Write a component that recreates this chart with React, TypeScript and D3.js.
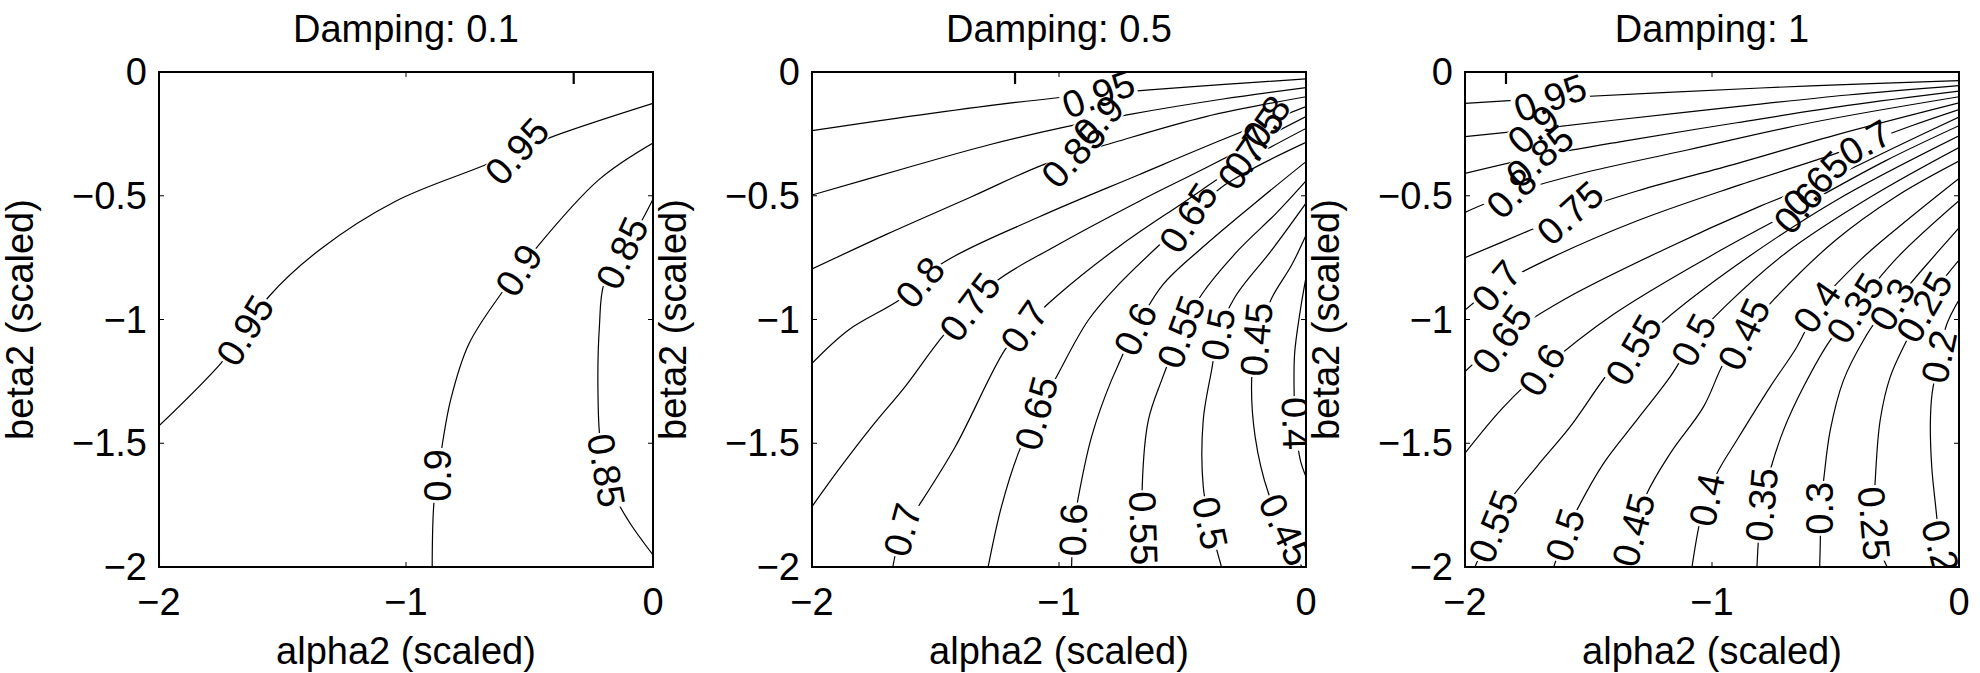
import React from 'react';
import * as d3 from 'd3';

type Pt = [number, number];
type Lab = [number, number, number]; // x, y, rotation (deg)

// ---------- axes / text ----------
const titles = ['Damping: 0.1', 'Damping: 0.5', 'Damping: 1'];
const xTicks = [-2, -1, 0];
const yTicks = [0, -0.5, -1, -1.5, -2];
const xLabel = 'alpha2 (scaled)';
const yLabel = 'beta2 (scaled)';
const stubX = [-0.321, -1.178, -1.834];

// ---------- Panel 1 : Damping 0.1 ----------
const p1_095: Pt[] = [[-2, -1.43], [-1.748, -1.175], [-1.651, -1.045], [-1.554, -0.906], [-1.344, -0.714], [-1.044, -0.523], [-0.677, -0.375], [-0.43, -0.27], [0, -0.127]];
const p1_095_lab: Lab[] = [[-1.651, -1.045, -58], [-0.55, -0.321, -48]];
const p1_090: Pt[] = [[0, -0.287], [-0.22, -0.436], [-0.49, -0.732], [-0.61, -0.889], [-0.745, -1.098], [-0.819, -1.324], [-0.864, -1.577], [-0.887, -1.742], [-0.894, -2]];
const p1_090_lab: Lab[] = [[-0.543, -0.801, -57], [-0.872, -1.63, -90]];
const p1_085: Pt[] = [[0, -0.514], [-0.055, -0.618], [-0.124, -0.732], [-0.198, -0.854], [-0.217, -1.028], [-0.223, -1.272], [-0.213, -1.498], [-0.175, -1.672], [-0.1, -1.812], [0, -1.951]];
const p1_085_lab: Lab[] = [[-0.124, -0.732, -65], [-0.19, -1.61, 80]];

// ---------- Panel 2 : Damping 0.5 ----------
const p2_095: Pt[] = [[-2, -0.237], [-1.516, -0.167], [-1.024, -0.106], [-0.84, -0.09], [-0.647, -0.073], [-0.33, -0.05], [0, -0.028]];
const p2_095_lab: Lab[] = [[-0.84, -0.09, -20]];
const p2_090: Pt[] = [[-2, -0.497], [-1.623, -0.389], [-1.286, -0.295], [-0.969, -0.221], [-0.713, -0.171], [-0.342, -0.11], [0, -0.063]];
const p2_090_lab: Lab[] = [[-0.84, -0.195, -45]];
const p2_085: Pt[] = [[-2, -0.796], [-1.69, -0.652], [-1.354, -0.504], [-1.057, -0.372], [-0.768, -0.282], [-0.409, -0.181], [0, -0.1]];
const p2_085_lab: Lab[] = [[-0.94, -0.335, -47]];
const p2_080: Pt[] = [[-2, -1.177], [-1.852, -1.042], [-1.636, -0.914], [-1.474, -0.774], [-1.084, -0.587], [-0.679, -0.416], [-0.342, -0.275], [0, -0.14]];
const p2_080_lab: Lab[] = [[-1.562, -0.85, -50], [-0.16, -0.2, -55]];
const p2_075: Pt[] = [[-2, -1.756], [-1.893, -1.608], [-1.758, -1.433], [-1.623, -1.271], [-1.461, -1.056], [-1.26, -0.85], [-1.017, -0.705], [-0.679, -0.524], [-0.409, -0.389], [0, -0.18]];
const p2_075_lab: Lab[] = [[-1.36, -0.95, -53], [-0.21, -0.287, -55]];
const p2_070: Pt[] = [[-1.673, -2], [-1.633, -1.85], [-1.57, -1.756], [-1.42, -1.514], [-1.219, -1.123], [-1.14, -1.03], [-1.003, -0.9], [-0.75, -0.7], [-0.5, -0.53], [-0.26, -0.37], [0, -0.228]];
const p2_070_lab: Lab[] = [[-1.633, -1.85, -75], [-1.14, -1.03, -55], [-0.26, -0.37, -55]];
const p2_065: Pt[] = [[-1.287, -2], [-1.233, -1.756], [-1.165, -1.541], [-1.091, -1.379], [-1.017, -1.244], [-0.881, -1.002], [-0.76, -0.86], [-0.476, -0.59], [-0.328, -0.456], [0, -0.284]];
const p2_065_lab: Lab[] = [[-1.091, -1.379, -75], [-0.476, -0.59, -57]];
const p2_060: Pt[] = [[-0.949, -2], [-0.942, -1.85], [-0.922, -1.72], [-0.868, -1.473], [-0.787, -1.244], [-0.69, -1.04], [-0.58, -0.86], [-0.409, -0.7], [-0.207, -0.53], [0, -0.362]];
const p2_060_lab: Lab[] = [[-0.942, -1.85, -88], [-0.69, -1.04, -65]];
const p2_055: Pt[] = [[-0.652, -2], [-0.659, -1.843], [-0.663, -1.675], [-0.638, -1.406], [-0.584, -1.244], [-0.505, -1.05], [-0.423, -0.9], [-0.274, -0.72], [-0.12, -0.57], [0, -0.44]];
const p2_055_lab: Lab[] = [[-0.659, -1.843, 88], [-0.505, -1.05, -70]];
const p2_050: Pt[] = [[-0.342, -2], [-0.389, -1.823], [-0.416, -1.675], [-0.416, -1.406], [-0.382, -1.204], [-0.355, -1.06], [-0.288, -0.91], [-0.139, -0.72], [0, -0.53]];
const p2_050_lab: Lab[] = [[-0.389, -1.823, 78], [-0.355, -1.06, -80]];
const p2_045: Pt[] = [[-0.017, -2], [-0.085, -1.85], [-0.152, -1.702], [-0.206, -1.473], [-0.22, -1.244], [-0.2, -1.08], [-0.139, -0.914], [-0.058, -0.78], [0, -0.66]];
const p2_045_lab: Lab[] = [[-0.085, -1.85, 65], [-0.2, -1.08, -85]];
const p2_040: Pt[] = [[0, -0.83], [-0.024, -0.969], [-0.046, -1.137], [-0.048, -1.3], [-0.043, -1.42], [-0.023, -1.568], [0, -1.635]];
const p2_040_lab: Lab[] = [[-0.043, -1.42, 88]];

// ---------- Panel 3 : Damping 1 ----------
const p3_095: Pt[] = [[-2, -0.127], [-1.655, -0.106], [-1.2, -0.083], [-0.6, -0.056], [0, -0.035]];
const p3_095_lab: Lab[] = [[-1.655, -0.106, -20]];
const p3_090: Pt[] = [[-2, -0.261], [-1.723, -0.232], [-1.4, -0.195], [-0.9, -0.14], [-0.45, -0.093], [0, -0.055]];
const p3_090_lab: Lab[] = [[-1.723, -0.232, -40]];
const p3_085: Pt[] = [[-2, -0.41], [-1.696, -0.34], [-1.35, -0.278], [-0.9, -0.205], [-0.45, -0.135], [0, -0.077]];
const p3_085_lab: Lab[] = [[-1.696, -0.34, -40]];
const p3_080: Pt[] = [[-2, -0.567], [-1.811, -0.49], [-1.55, -0.415], [-1.1, -0.315], [-0.6, -0.205], [0, -0.1]];
const p3_080_lab: Lab[] = [[-1.811, -0.49, -45]];
const p3_075: Pt[] = [[-2, -0.75], [-1.75, -0.645], [-1.574, -0.57], [-1.3, -0.48], [-0.9, -0.37], [-0.5, -0.255], [0, -0.125]];
const p3_075_lab: Lab[] = [[-1.574, -0.57, -42]];
const p3_070: Pt[] = [[-2, -0.962], [-1.872, -0.865], [-1.65, -0.75], [-1.3, -0.6], [-0.9, -0.46], [-0.5, -0.33], [-0.2, -0.22], [0, -0.152]];
const p3_070_lab: Lab[] = [[-1.872, -0.865, -50], [-0.38, -0.286, -30]];
const p3_065: Pt[] = [[-2, -1.21], [-1.85, -1.08], [-1.6, -0.92], [-1.2, -0.72], [-0.8, -0.54], [-0.5, -0.42], [-0.25, -0.3], [0, -0.182]];
const p3_065_lab: Lab[] = [[-1.85, -1.08, -55], [-0.58, -0.452, -45]];
const p3_060: Pt[] = [[-2, -1.54], [-1.85, -1.36], [-1.688, -1.204], [-1.4, -0.98], [-1.0, -0.74], [-0.65, -0.55], [-0.3, -0.36], [0, -0.217]];
const p3_060_lab: Lab[] = [[-1.688, -1.204, -58], [-0.65, -0.55, -50]];
const p3_055: Pt[] = [[-1.96, -2], [-1.884, -1.837], [-1.823, -1.736], [-1.709, -1.594], [-1.574, -1.433], [-1.398, -1.19], [-1.317, -1.123], [-1.2, -1.01], [-0.9, -0.78], [-0.5, -0.52], [0, -0.258]];
const p3_055_lab: Lab[] = [[-1.884, -1.837, -68], [-1.317, -1.123, -60]];
const p3_050: Pt[] = [[-1.641, -2], [-1.594, -1.871], [-1.547, -1.77], [-1.439, -1.581], [-1.304, -1.406], [-1.169, -1.231], [-1.074, -1.083], [-0.95, -0.95], [-0.7, -0.73], [-0.35, -0.5], [0, -0.305]];
const p3_050_lab: Lab[] = [[-1.594, -1.871, -72], [-1.074, -1.083, -62]];
const p3_045: Pt[] = [[-1.344, -2], [-1.317, -1.85], [-1.263, -1.702], [-1.169, -1.541], [-1.034, -1.352], [-0.953, -1.177], [-0.87, -1.06], [-0.75, -0.92], [-0.5, -0.68], [-0.25, -0.5], [0, -0.36]];
const p3_045_lab: Lab[] = [[-1.317, -1.85, -75], [-0.87, -1.06, -65]];
const p3_040: Pt[] = [[-1.081, -2], [-1.047, -1.81], [-1.02, -1.729], [-0.98, -1.622], [-0.899, -1.487], [-0.764, -1.271], [-0.656, -1.11], [-0.6, -1.0], [-0.575, -0.95], [-0.4, -0.76], [-0.2, -0.59], [0, -0.43]];
const p3_040_lab: Lab[] = [[-1.02, -1.729, -78], [-0.575, -0.95, -55]];
const p3_035: Pt[] = [[-0.818, -2], [-0.811, -1.877], [-0.798, -1.749], [-0.764, -1.608], [-0.71, -1.446], [-0.629, -1.271], [-0.521, -1.083], [-0.453, -1.002], [-0.42, -0.955], [-0.25, -0.75], [0, -0.52]];
const p3_035_lab: Lab[] = [[-0.798, -1.749, -85], [-0.42, -0.955, -58]];
const p3_030: Pt[] = [[-0.564, -2], [-0.561, -1.864], [-0.561, -1.763], [-0.548, -1.648], [-0.521, -1.446], [-0.467, -1.244], [-0.386, -1.083], [-0.332, -1.002], [-0.27, -0.94], [-0.15, -0.8], [0, -0.63]];
const p3_030_lab: Lab[] = [[-0.561, -1.763, -90], [-0.27, -0.94, -60]];
const p3_025: Pt[] = [[-0.291, -2], [-0.325, -1.918], [-0.345, -1.824], [-0.339, -1.648], [-0.319, -1.406], [-0.278, -1.231], [-0.211, -1.083], [-0.17, -1.002], [-0.14, -0.95], [-0.08, -0.86], [0, -0.76]];
const p3_025_lab: Lab[] = [[-0.345, -1.824, 85], [-0.14, -0.95, -60]];
const p3_020: Pt[] = [[0, -0.92], [-0.05, -1.02], [-0.08, -1.15], [-0.109, -1.3], [-0.116, -1.42], [-0.11, -1.6], [-0.095, -1.75], [-0.076, -1.917], [-0.06, -2]];
const p3_020_lab: Lab[] = [[-0.08, -1.15, -78], [-0.076, -1.917, 75]];

type Contour = { level: number; pts: Pt[]; labs: Lab[] };
const c = (level: number, pts: Pt[], labs: Lab[]): Contour => ({ level, pts, labs });

const panels: Contour[][] = [
  [c(0.95, p1_095, p1_095_lab), c(0.9, p1_090, p1_090_lab), c(0.85, p1_085, p1_085_lab)],
  [
    c(0.95, p2_095, p2_095_lab), c(0.9, p2_090, p2_090_lab), c(0.85, p2_085, p2_085_lab),
    c(0.8, p2_080, p2_080_lab), c(0.75, p2_075, p2_075_lab), c(0.7, p2_070, p2_070_lab),
    c(0.65, p2_065, p2_065_lab), c(0.6, p2_060, p2_060_lab), c(0.55, p2_055, p2_055_lab),
    c(0.5, p2_050, p2_050_lab), c(0.45, p2_045, p2_045_lab), c(0.4, p2_040, p2_040_lab),
  ],
  [
    c(0.95, p3_095, p3_095_lab), c(0.9, p3_090, p3_090_lab), c(0.85, p3_085, p3_085_lab),
    c(0.8, p3_080, p3_080_lab), c(0.75, p3_075, p3_075_lab), c(0.7, p3_070, p3_070_lab),
    c(0.65, p3_065, p3_065_lab), c(0.6, p3_060, p3_060_lab), c(0.55, p3_055, p3_055_lab),
    c(0.5, p3_050, p3_050_lab), c(0.45, p3_045, p3_045_lab), c(0.4, p3_040, p3_040_lab),
    c(0.35, p3_035, p3_035_lab), c(0.3, p3_030, p3_030_lab), c(0.25, p3_025, p3_025_lab),
    c(0.2, p3_020, p3_020_lab),
  ],
];

// ---------- layout ----------
const W = 1980;
const H = 673;
const PLOT_W = 494;
const PLOT_TOP = 72;
const PLOT_BOTTOM = 567;
const PANEL_X0 = 159;
const PANEL_STEP = 653;
const FONT = "'Liberation Sans', Arial, Helvetica, sans-serif";
const TICK_FS = 38;
const TITLE_FS = 38;
const AXLAB_FS = 38;
const LFS = 38;

const fmtTick = (v: number) => (v === 0 ? '0' : (v < 0 ? '\u2212' : '') + String(Math.abs(v)));
const textW = (s: string, fs: number) =>
  s.split('').reduce((a, ch) => a + (ch === '.' ? 0.278 : 0.556), 0) * fs;

function Panel({ idx }: { idx: number }) {
  const left = PANEL_X0 + idx * PANEL_STEP;
  const x = d3.scaleLinear().domain([-2, 0]).range([left, left + PLOT_W]);
  const y = d3.scaleLinear().domain([-2, 0]).range([PLOT_BOTTOM, PLOT_TOP]);
  const line = d3
    .line<Pt>()
    .x((d) => x(d[0]))
    .y((d) => y(d[1]))
    .curve(d3.curveCatmullRom.alpha(0.5));
  const clipId = `clip${idx}`;
  const contours = panels[idx];
  const cx = left + PLOT_W / 2;
  const cy = (PLOT_TOP + PLOT_BOTTOM) / 2;
  const tick = 5;

  return (
    <g>
      <defs>
        <clipPath id={clipId}>
          <rect x={left} y={PLOT_TOP} width={PLOT_W} height={PLOT_BOTTOM - PLOT_TOP} />
        </clipPath>
        {contours.map((ct, j) => (
          <mask id={`m${idx}_${j}`} key={j} maskUnits="userSpaceOnUse" x={0} y={0} width={W} height={H}>
            <rect x={0} y={0} width={W} height={H} fill="white" />
            {ct.labs.map((l, k) => {
              const w = textW(String(ct.level), LFS) + 2;
              const h = LFS * 0.75;
              return (
                <rect
                  key={k}
                  x={-w / 2}
                  y={-h / 2}
                  width={w}
                  height={h}
                  fill="black"
                  transform={`translate(${x(l[0])},${y(l[1])}) rotate(${l[2]})`}
                />
              );
            })}
          </mask>
        ))}
      </defs>

      {/* title */}
      <text x={cx} y={42} textAnchor="middle" fontSize={TITLE_FS} fontFamily={FONT} fill="#000">
        {titles[idx]}
      </text>

      {/* contours */}
      <g clipPath={`url(#${clipId})`}>
        {contours.map((ct, j) => (
          <path
            key={j}
            d={line(ct.pts) || ''}
            fill="none"
            stroke="#000"
            strokeWidth={1.2}
            mask={`url(#m${idx}_${j})`}
          />
        ))}
        <line x1={x(stubX[idx])} x2={x(stubX[idx])} y1={PLOT_TOP} y2={PLOT_TOP + 12} stroke="#000" strokeWidth={2.2} />
        {contours.map((ct, j) =>
          ct.labs.map((l, k) => (
            <text
              key={`${j}_${k}`}
              transform={`translate(${x(l[0])},${y(l[1])}) rotate(${l[2]})`}
              textAnchor="middle"
              dominantBaseline="central"
              fontSize={LFS}
              fontFamily={FONT}
              fill="#000"
            >
              {String(ct.level)}
            </text>
          ))
        )}
      </g>

      {/* frame */}
      <rect
        x={left}
        y={PLOT_TOP}
        width={PLOT_W}
        height={PLOT_BOTTOM - PLOT_TOP}
        fill="none"
        stroke="#000"
        strokeWidth={2}
      />

      {/* ticks */}
      {xTicks.map((t) => (
        <g key={`xt${t}`}>
          <line x1={x(t)} x2={x(t)} y1={PLOT_BOTTOM} y2={PLOT_BOTTOM - tick} stroke="#000" strokeWidth={1} />
          <line x1={x(t)} x2={x(t)} y1={PLOT_TOP} y2={PLOT_TOP + tick} stroke="#000" strokeWidth={1} />
          <text x={x(t)} y={615} textAnchor="middle" fontSize={TICK_FS} fontFamily={FONT} fill="#000">
            {fmtTick(t)}
          </text>
        </g>
      ))}
      {yTicks.map((t) => (
        <g key={`yt${t}`}>
          <line x1={left} x2={left + tick} y1={y(t)} y2={y(t)} stroke="#000" strokeWidth={1} />
          <line x1={left + PLOT_W} x2={left + PLOT_W - tick} y1={y(t)} y2={y(t)} stroke="#000" strokeWidth={1} />
          <text
            x={left - 12}
            y={y(t)}
            textAnchor="end"
            dominantBaseline="central"
            fontSize={TICK_FS}
            fontFamily={FONT}
            fill="#000"
          >
            {fmtTick(t)}
          </text>
        </g>
      ))}

      {/* axis labels */}
      <text x={cx} y={664} textAnchor="middle" fontSize={AXLAB_FS} fontFamily={FONT} fill="#000">
        {xLabel}
      </text>
      <text
        transform={`translate(${left - 126},${cy}) rotate(-90)`}
        textAnchor="middle"
        fontSize={AXLAB_FS}
        fontFamily={FONT}
        fill="#000"
      >
        {yLabel}
      </text>
    </g>
  );
}

export default function App() {
  return (
    <svg
      width={W}
      height={H}
      viewBox={`0 0 ${W} ${H}`}
      style={{ position: 'absolute', left: 0, top: 0, background: '#fff' }}
    >
      <rect x={0} y={0} width={W} height={H} fill="#fff" />
      {[0, 1, 2].map((i) => (
        <Panel key={i} idx={i} />
      ))}
    </svg>
  );
}
